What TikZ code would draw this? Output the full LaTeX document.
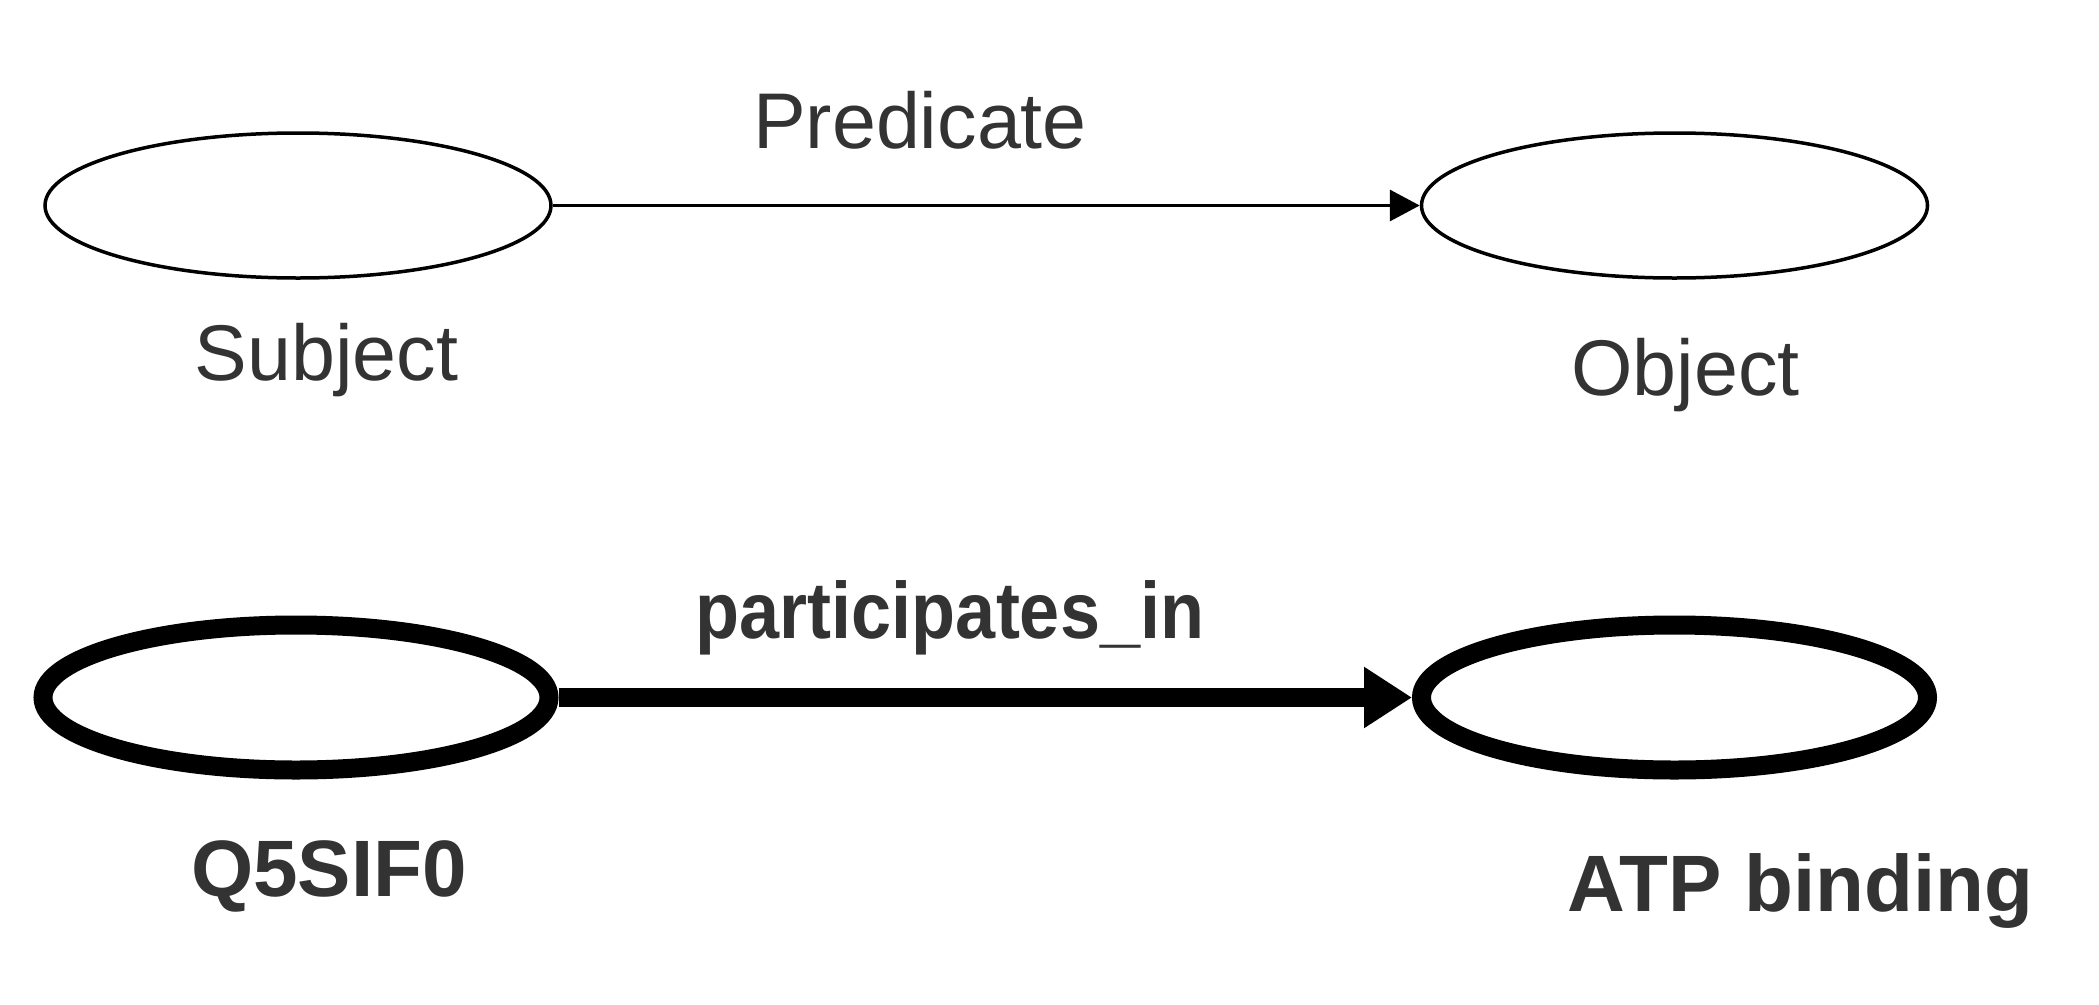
\documentclass[tikz,border=0pt]{standalone}
\usepackage{fontspec}
\setmainfont{Liberation Sans}
\usetikzlibrary{shapes.geometric,arrows.meta}
\definecolor{txt}{HTML}{333333}
\begin{document}
\begin{tikzpicture}[x=1pt,y=-1pt,
  thinell/.style={ellipse,draw=black,line width=3.5pt,minimum width=506pt,minimum height=145pt,inner sep=0pt},
  thickell/.style={ellipse,draw=black,line width=19pt,minimum width=506pt,minimum height=145pt,inner sep=0pt},
  regtxt/.style={text=txt,anchor=base,inner sep=0pt,font=\fontsize{79}{90}\selectfont},
  boldtxt/.style={text=txt,anchor=base,inner sep=0pt,font=\fontsize{80}{92}\selectfont\bfseries},
  thinarrow/.style={draw=black,line width=3.5pt,-{Triangle[length=30pt,width=31pt]}},
  thickarrow/.style={draw=black,line width=19pt,-{Triangle[length=48pt,width=58pt]}}
]
\useasboundingbox (0,0) rectangle (2099,1004);
% top row
\node[thinell] (subj) at (298,205.5) {};
\node[thinell] (obj) at (1674.5,205.5) {};
\draw[thinarrow] (subj.east) -- (obj.west);
\node[regtxt] (pred) at (920,148.3) {Predicate};
\node[regtxt] (subjlbl) at (326.5,380) {Subject};
\node[regtxt] (objlbl) at (1685.5,395) {Object};
% bottom row
\node[thickell] (q5) at (296,697.5) {};
\node[thickell] (atp) at (1674.5,697.5) {};
\draw[thickarrow] (q5.east) -- (atp.west);
\node[boldtxt,xscale=0.9] (part) at (950,638.3) {participates\_in};
\node[boldtxt] (q5lbl) at (329,896.7) {Q5SIF0};
\node[boldtxt] (atplbl) at (1800.5,911) {ATP binding};
\end{tikzpicture}
\end{document}
